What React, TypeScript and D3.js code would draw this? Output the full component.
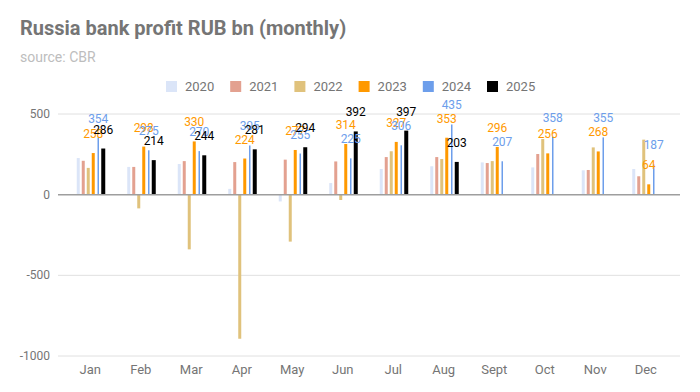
import React from 'react';
import * as d3 from 'd3';

const months = ['Jan', 'Feb', 'Mar', 'Apr', 'May', 'Jun', 'Jul', 'Aug', 'Sept', 'Oct', 'Nov', 'Dec'];
const years = ['2020', '2021', '2022', '2023', '2024', '2025'];
const profit2020 = [227, 172, 190, 36, -42, 72, 159, 176, 200, 169, 151, 159];
const profit2021 = [210, 172, 208, 202, 217, 206, 233, 233, 196, 252, 153, 114];
const profit2022 = [166, -85, -339, -893, -291, -33, 269, 221, 208, 345, 293, 341];
const profit2023 = [258, 298, 330, 224, 277, 314, 327, 353, 296, 256, 268, 64];
const profit2024 = [354, 275, 270, 305, 255, 225, 306, 435, 207, 358, 355, 187];
const profit2025 = [286, 214, 244, 281, 294, 392, 397, 203, null, null, null, null];
const yTicks = [-1000, -500, 0, 500];

const series = [profit2020, profit2021, profit2022, profit2023, profit2024, profit2025];
const labelled = ['2023', '2024', '2025'];

const colors = ['#dbe5f8', '#e3a190', '#e0c27c', '#ff9900', '#6d9eeb', '#000000'];
const barW = [3, 3, 3, 3, 1.5, 4];
const font = 'Roboto, sans-serif';

const App = () => {
  const x = d3.scaleBand().domain(months).range([65, 671]).padding(0);
  const xi = d3.scaleBand().domain(years).range([-14.5, 15.5]).padding(0);
  const y = d3.scaleLinear().domain([-1000, 500]).range([356, 114]);

  const bars: any[] = [];
  const labels: any[] = [];
  years.forEach((yr, s) => {
    series[s].forEach((v, m) => {
      if (v == null) return;
      const cx = x(months[m])! + x.bandwidth() / 2 + xi(yr)! + xi.bandwidth() / 2;
      const top = y(Math.max(0, v));
      const h = Math.abs(y(v) - y(0));
      bars.push(
        <rect key={yr + m} x={cx - barW[s] / 2} y={top} width={barW[s]} height={h} fill={colors[s]} />
      );
      if (labelled.includes(yr)) {
        labels.push(
          <text key={'l' + yr + m} x={cx} y={top - 15} textAnchor="middle" fontSize={12}
            fill={colors[s]} fontFamily={font}>{v}</text>
        );
      }
    });
  });

  return (
    <svg width={700} height={392} style={{ position: 'absolute', left: 0, top: 0, background: '#fff' }}>
      <rect width={700} height={392} fill="#fff" />
      <text x={20} y={35} fontSize={20} fontWeight="bold" fill="#757575" fontFamily={font}>
        Russia bank profit RUB bn (monthly)
      </text>
      <text x={20} y={62} fontSize={14} fill="#bdbdbd" fontFamily={font}>source: CBR</text>

      {/* legend */}
      {years.map((yr, i) => (
        <g key={yr} transform={`translate(${166 + i * 64.2},81)`}>
          <rect width={11} height={11} fill={colors[i]} />
          <text x={19} y={10} fontSize={13} fill="#757575" fontFamily={font}>{yr}</text>
        </g>
      ))}

      {/* grid */}
      {yTicks.map(t => (
        <g key={t}>
          {t !== 0 && <line x1={58} x2={680} y1={y(t)} y2={y(t)} stroke="#e0e0e0" strokeWidth={1} />}
          <text x={50} y={y(t) + 4} textAnchor="end" fontSize={12} fill="#757575" fontFamily={font}>{t}</text>
        </g>
      ))}

      {bars}
      <line x1={58} x2={680} y1={y(0)} y2={y(0)} stroke="#9e9e9e" strokeWidth={1.5} />
      {labels}

      {months.map(m => (
        <text key={m} x={x(m)! + x.bandwidth() / 2} y={374} textAnchor="middle" fontSize={13}
          fill="#757575" fontFamily={font}>{m}</text>
      ))}
    </svg>
  );
};

export default App;
